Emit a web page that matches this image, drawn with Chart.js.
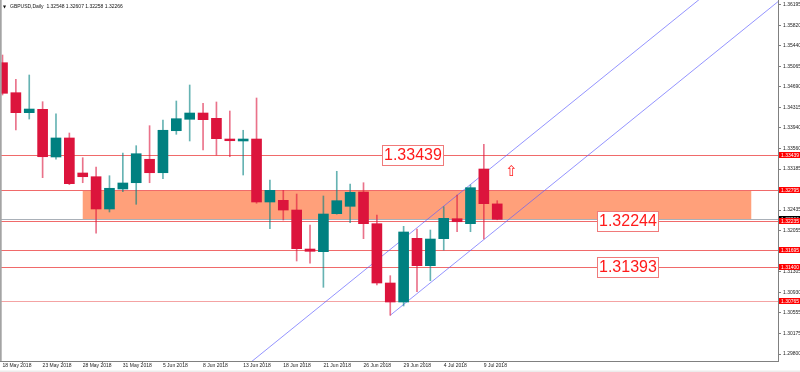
<!DOCTYPE html>
<html>
<head>
<meta charset="utf-8">
<script src="https://cdn.jsdelivr.net/npm/chart.js@4.4.1/dist/chart.umd.min.js"></script>
<style>
html,body{margin:0;padding:0;background:#fff;overflow:hidden;}
#wrap{width:800px;height:372px;position:relative;}
canvas{display:block;}
</style>
</head>
<body>
<div id="wrap"><canvas id="c" width="800" height="372"></canvas></div>
<script>
// ---------- DATA ----------
const symbolTitle = 'GBPUSD,Daily';
const dates = ['18 May 2018','21 May 2018','22 May 2018','23 May 2018','24 May 2018','25 May 2018',
  '28 May 2018','29 May 2018','30 May 2018','31 May 2018','1 Jun 2018','4 Jun 2018','5 Jun 2018',
  '6 Jun 2018','7 Jun 2018','8 Jun 2018','11 Jun 2018','12 Jun 2018','13 Jun 2018','14 Jun 2018',
  '15 Jun 2018','18 Jun 2018','19 Jun 2018','20 Jun 2018','21 Jun 2018','22 Jun 2018','25 Jun 2018',
  '26 Jun 2018','27 Jun 2018','28 Jun 2018','29 Jun 2018','2 Jul 2018','3 Jul 2018','4 Jul 2018',
  '5 Jul 2018','6 Jul 2018','9 Jul 2018','10 Jul 2018'];
const opens  = [1.35133,1.34584,1.34218,1.34280,1.33407,1.33755,1.33114,1.33046,1.32455,1.32821,
  1.32936,1.33365,1.33119,1.33888,1.34097,1.34212,1.34115,1.33736,1.33700,1.33736,1.32583,1.32614,
  1.32436,1.31722,1.31673,1.32369,1.32504,1.32766,1.32186,1.31100,1.30752,1.31918,1.31417,1.31911,
  1.32277,1.32186,1.33187,1.32548];
const highs  = [1.35274,1.34829,1.34908,1.34419,1.34199,1.33846,1.33394,1.33224,1.33064,1.33480,
  1.33614,1.33980,1.34084,1.34432,1.34725,1.34390,1.34414,1.34249,1.33896,1.34487,1.32986,1.32797,
  1.32729,1.32162,1.32693,1.33145,1.32912,1.32936,1.32345,1.31234,1.32138,1.32089,1.32070,1.32497,
  1.32711,1.32894,1.33639,1.32607];
const lows   = [1.34542,1.33901,1.34102,1.33028,1.33365,1.32900,1.32936,1.32010,1.32400,1.32771,
  1.32541,1.32936,1.33009,1.33822,1.33700,1.33535,1.33443,1.33412,1.33077,1.32559,1.32094,1.32253,
  1.31503,1.31461,1.31021,1.32360,1.32204,1.31911,1.31063,1.30509,1.30679,1.30941,1.31142,1.31704,
  1.32039,1.32039,1.31905,1.32258];
const closes = [1.34573,1.34218,1.34285,1.33412,1.33755,1.32918,1.33046,1.32455,1.32834,1.32931,
  1.33467,1.33119,1.33896,1.34108,1.34212,1.34090,1.33742,1.33705,1.33736,1.32583,1.32797,1.32436,
  1.31728,1.31680,1.32363,1.32607,1.32760,1.32186,1.31100,1.30752,1.32034,1.31417,1.31905,1.32284,
  1.32222,1.32845,1.32552,1.32266];
const yTickValues = [1.36195,1.35820,1.35440,1.35065,1.34690,1.34315,1.33940,1.33560,1.33185,
  1.32810,1.32435,1.32055,1.31680,1.31305,1.30930,1.30555,1.30175,1.29800];
const dateLabelEvery = 3;
const hLineValues = [1.33439,1.32795,1.32235,1.31695,1.31400,1.30765];
const zoneTop = 1.32795, zoneBottom = 1.32255, zoneFromIdx = 6, zoneToIdx = 56;
const channelLower = [[29,1.30509],[58.5,1.36350]];
const channelUpper = [[18,1.29537],[54,1.36665]];
const boxTexts = ['1.33439','1.32244','1.31393'];
const boxIdx = [28.4,44.46,44.46];
const arrowPoint = [38.07,1.33132];

// ---------- CHART ----------
const FONT = '"Liberation Sans", Arial, sans-serif';
Chart.defaults.font.family = FONT;
const n = dates.length;
const isUp = closes.map((c,i)=>c>=opens[i]);
const UP='#008080', DN='#dc143c';

const overlay = {
  id:'overlay',
  beforeDatasetsDraw(chart){
    const {ctx, chartArea:a, scales:{x,y}} = chart;
    ctx.save();
    ctx.beginPath(); ctx.rect(a.left,a.top,a.right-a.left,a.bottom-a.top); ctx.clip();
    const zx1=x.getPixelForValue(zoneFromIdx), zx2=x.getPixelForValue(zoneToIdx);
    const zy1=y.getPixelForValue(zoneTop), zy2=y.getPixelForValue(zoneBottom);
    ctx.fillStyle='#ffa07a';
    ctx.fillRect(zx1,zy1,zx2-zx1,zy2-zy1);
    ctx.lineWidth=1;
    let by=Math.round(y.getPixelForValue(closes[n-1]))+0.5;
    ctx.strokeStyle='#a9b0b8';
    ctx.beginPath(); ctx.moveTo(a.left,by); ctx.lineTo(a.right,by); ctx.stroke();
    hLineValues.forEach((v,k)=>{
      const py=Math.round(y.getPixelForValue(v))+0.5;
      ctx.strokeStyle = k===hLineValues.length-1 ? '#f4a3a3' : '#f06a6a';
      ctx.beginPath(); ctx.moveTo(a.left,py); ctx.lineTo(a.right,py); ctx.stroke();
    });
    ctx.strokeStyle='rgba(90,90,255,0.65)';
    [channelLower,channelUpper].forEach(l=>{
      ctx.beginPath();
      ctx.moveTo(x.getPixelForValue(l[0][0]),y.getPixelForValue(l[0][1]));
      ctx.lineTo(x.getPixelForValue(l[1][0]),y.getPixelForValue(l[1][1]));
      ctx.stroke();
    });
    ctx.restore();
  },
  afterDatasetsDraw(chart){
    const {ctx, chartArea:a, scales:{x,y}} = chart;
    ctx.save();
    ctx.font='16px '+FONT;
    ctx.textBaseline='middle'; ctx.textAlign='left';
    boxTexts.forEach((t,k)=>{
      const px=Math.round(x.getPixelForValue(boxIdx[k]))+0.5;
      const py=y.getPixelForValue(parseFloat(t));
      const w=Math.round(ctx.measureText(t).width)+3;
      const top=Math.round(py-10)+0.5;
      ctx.fillStyle='#fff';
      ctx.fillRect(px,top,w,20);
      ctx.strokeStyle='#f07a7a'; ctx.lineWidth=1;
      ctx.strokeRect(px,top,w,20);
      ctx.fillStyle='#ff1a1a';
      ctx.fillText(t,px+1.5,top+10.5);
    });
    ctx.font='15px "DejaVu Sans"';
    ctx.textAlign='center';
    ctx.fillStyle='#ff2020';
    ctx.fillText('\u21E7', x.getPixelForValue(arrowPoint[0]), y.getPixelForValue(arrowPoint[1]));
    ctx.restore();
  },
  afterDraw(chart){
    const {ctx, chartArea:a, scales:{x,y}} = chart;
    ctx.save();
    const tag=(v,bg)=>{
      const py=y.getPixelForValue(v);
      ctx.fillStyle=bg;
      ctx.fillRect(a.right+1,Math.round(py-3),22,6);
      ctx.fillStyle='#fff';
      ctx.font='5px '+FONT;
      ctx.textBaseline='middle'; ctx.textAlign='left';
      ctx.fillText(v.toFixed(5),a.right+3,Math.round(py-3)+3.3);
    };
    tag(closes[n-1],'#000');
    hLineValues.forEach(v=>tag(v,'#ff0000'));
    ctx.fillStyle='#a4a4a4';
    ctx.fillRect(0,0,1.7,a.bottom);
    ctx.fillStyle='#ececec';
    ctx.fillRect(0,370.5,800,1.5);
    ctx.fillStyle='#111';
    ctx.font='5px '+FONT;
    ctx.textBaseline='middle'; ctx.textAlign='left';
    const last=n-1;
    ctx.fillText(symbolTitle+'  '+[opens[last],highs[last],lows[last],closes[last]].map(v=>v.toFixed(5)).join(' '),10,6.5);
    ctx.font='4px "DejaVu Sans"';
    ctx.fillText('\u25BC',3,6.5);
    ctx.restore();
  }
};

new Chart(document.getElementById('c'),{
  type:'bar',
  data:{
    datasets:[
      {
        label:'body',
        data:dates.map((d,i)=>({x:i,y:[opens[i],closes[i]]})),
        backgroundColor:isUp.map(u=>u?UP:DN),
        barThickness:10,
        grouped:false,
        order:0
      },
      {
        label:'wick',
        data:dates.map((d,i)=>({x:i,y:[lows[i],highs[i]]})),
        backgroundColor:isUp.map(u=>u?'rgba(0,128,128,0.6)':'rgba(220,20,60,0.6)'),
        barThickness:1,
        grouped:false,
        order:1
      }
    ]
  },
  options:{
    responsive:false,
    animation:false,
    devicePixelRatio:1,
    layout:{padding:0},
    plugins:{legend:{display:false},tooltip:{enabled:false},title:{display:false}},
    scales:{
      x:{
        type:'linear',
        min:-0.187, max:58.0,
        offset:false,
        grid:{display:true,drawOnChartArea:false,drawTicks:true,tickLength:2,color:'#808080'},
        border:{display:true,color:'#808080',width:1},
        ticks:{
          autoSkip:false,maxRotation:0,minRotation:0,align:'start',padding:0,
          color:'#222',font:{size:5,family:FONT},
          callback:(v)=>dates[v]
        },
        afterBuildTicks:(s)=>{
          const t=[];
          for(let i=0;i<n;i+=dateLabelEvery) t.push({value:i});
          s.ticks=t;
        },
        afterFit:(s)=>{s.height=11;s.paddingLeft=0;s.paddingRight=0;}
      },
      y:{
        type:'linear',
        position:'right',
        min:1.29672, max:1.36281,
        grid:{display:true,drawOnChartArea:false,drawTicks:true,tickLength:3,color:'#808080'},
        border:{display:true,color:'#808080',width:1},
        ticks:{
          padding:2,color:'#222',font:{size:5,family:FONT},
          callback:(v)=>Number(v).toFixed(5)
        },
        afterBuildTicks:(s)=>{s.ticks=yTickValues.map(v=>({value:v}));},
        afterFit:(s)=>{s.width=22;s.paddingTop=0;s.paddingBottom=0;}
      }
    }
  },
  plugins:[overlay]
});
</script>
</body>
</html>
